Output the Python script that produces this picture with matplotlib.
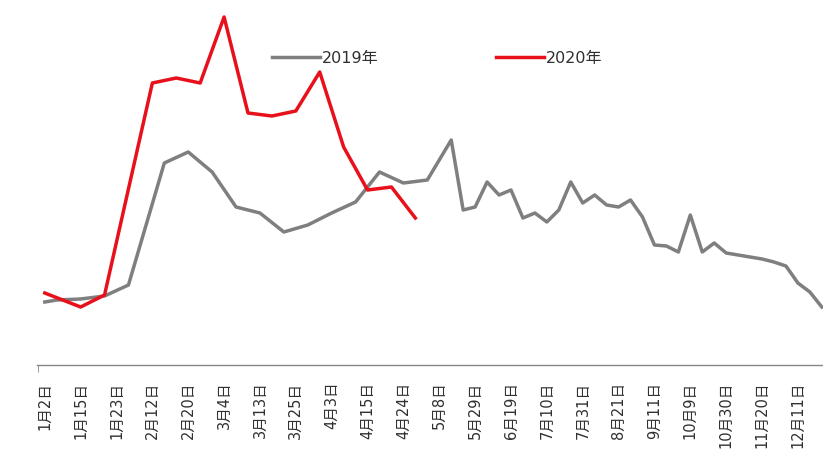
"""Weekly price curve, 2019 vs 2020."""

import matplotlib

matplotlib.use("Agg")
import matplotlib.pyplot as plt

plt.rcParams["font.family"] = ["DejaVu Sans", "Noto Sans CJK SC"]

# category positions (one slot per week) and values
idx_2019 = [0, 1, 3, 5, 7, 10, 12, 14, 16, 18, 20, 22, 24, 26, 28, 30, 32, 34,
            35, 36, 37, 38, 39, 40, 41, 42, 43, 44, 45, 46, 47, 48, 49, 50,
            51, 52, 53, 54, 55, 56, 57, 58, 59, 60, 61, 62, 63, 64, 65]
val_2019 = [63, 65, 66, 69, 80, 202, 213, 193, 158, 152, 133, 140, 152, 163, 193, 182, 185, 225,
            155, 158, 183, 170, 175, 147, 152, 143, 155, 183, 162, 170, 160, 158, 165, 148,
            120, 119, 113, 150, 113, 122, 112, 110, 108, 106, 103, 99, 82, 73, 58]

idx_2020 = [0, 3, 5, 9, 11, 13, 15, 17, 19, 21, 23, 25, 27, 29, 31]
val_2020 = [72, 58, 70, 282, 287, 282, 348, 252, 249, 254, 293, 218, 175, 178, 147]

tick_labels = ["1月2日", "1月15日", "1月23日", "2月12日", "2月20日", "3月4日",
               "3月13日", "3月25日", "4月3日", "4月15日", "4月24日", "5月8日",
               "5月29日", "6月19日", "7月10日", "7月31日", "8月21日", "9月11日",
               "10月9日", "10月30日", "11月20日", "12月11日"]
tick_step = 3

fig = plt.figure(figsize=(8.23, 4.75), dpi=100)
ax = fig.add_axes([37 / 823, 110 / 475, 786 / 823, 357 / 475])

ax.plot(idx_2019, val_2019, color="#7f7f7f", linewidth=2.5, label="2019年")
ax.plot(idx_2020, val_2020, color="#e8101a", linewidth=2.5, label="2020年")

ax.set_xlim(-0.65, 65.1)
ax.set_ylim(0, 357)

ax.set_xticks(range(0, len(tick_labels) * tick_step, tick_step))
ax.set_xticklabels(tick_labels, rotation=90, va="top", ha="center",
                   fontsize=10.5, color="#303030")
ax.tick_params(axis="x", length=0, pad=12)
# small tick at the left end of the category axis
ax.set_xticks([-0.6], minor=True)
ax.tick_params(axis="x", which="minor", length=5, color="#868686")
ax.set_yticks([])

for side in ("left", "right", "top"):
    ax.spines[side].set_visible(False)
ax.spines["bottom"].set_color("#868686")
ax.spines["bottom"].set_linewidth(1.0)

ax.legend(loc="upper left", bbox_to_anchor=(272 / 823, 1 - 51 / 475),
          bbox_transform=fig.transFigure, ncol=2, frameon=False,
          fontsize=11.5, handlelength=3.0, handletextpad=0.1,
          columnspacing=7.4, borderpad=0, borderaxespad=0,
          labelcolor="#303030")

fig.savefig("out.png", dpi=100)
